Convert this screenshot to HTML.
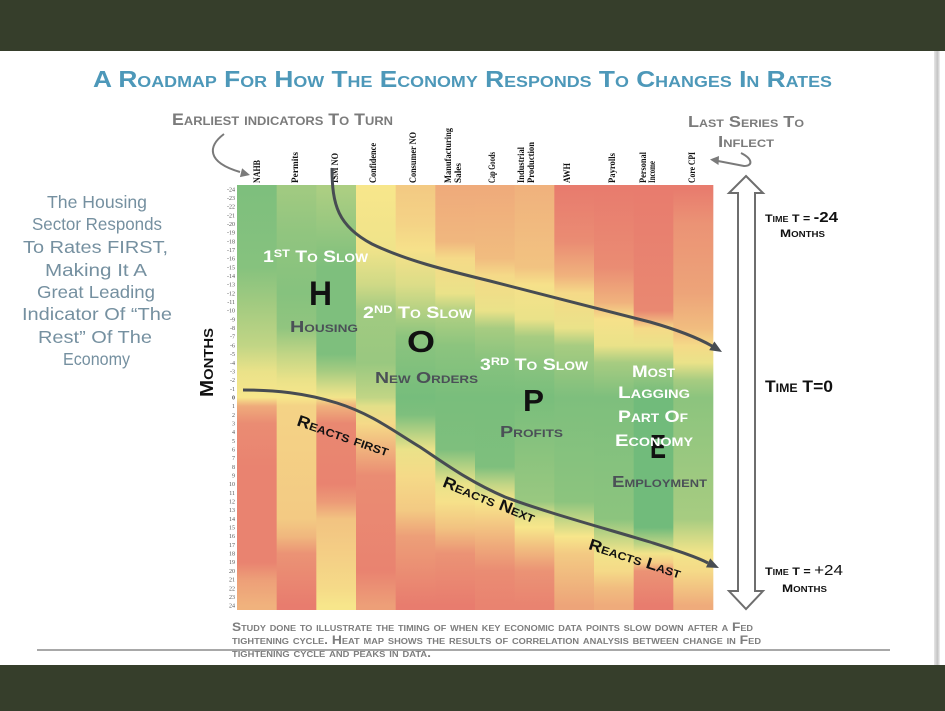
<!DOCTYPE html>
<html>
<head>
<meta charset="utf-8">
<style>
html,body{margin:0;padding:0;background:#fff;}
body{width:945px;height:711px;overflow:hidden;}
svg{display:block;}
.sc{font-family:"Liberation Sans",sans-serif;font-weight:bold;font-variant:small-caps;}
.hw{font-family:"Liberation Sans",sans-serif;font-weight:normal;fill:#7590a0;text-anchor:start;}
.cl{font-family:"Liberation Serif",serif;font-weight:bold;font-size:9px;fill:#111;}
.tk{font-family:"Liberation Serif",serif;font-size:6px;fill:#555;text-anchor:end;}
.wt{fill:#ffffff;}
.gt{fill:#4b5057;}
</style>
</head>
<body>
<svg width="945" height="711" viewBox="0 0 945 711" xmlns="http://www.w3.org/2000/svg">
<defs>
<linearGradient id="c1" x1="0" y1="0" x2="0" y2="1">
<stop offset="1%" stop-color="rgb(126,191,125)"/><stop offset="19.4%" stop-color="rgb(134,194,126)"/><stop offset="29.6%" stop-color="rgb(167,204,129)"/><stop offset="37.8%" stop-color="rgb(193,213,133)"/><stop offset="43.9%" stop-color="rgb(234,226,137)"/><stop offset="50%" stop-color="rgb(247,230,139)"/><stop offset="52%" stop-color="rgb(239,171,123)"/><stop offset="56.1%" stop-color="rgb(234,140,115)"/><stop offset="66.3%" stop-color="rgb(233,131,112)"/><stop offset="88.8%" stop-color="rgb(233,131,112)"/><stop offset="92.9%" stop-color="rgb(237,159,120)"/><stop offset="99%" stop-color="rgb(240,178,125)"/>
</linearGradient>
<linearGradient id="c2" x1="0" y1="0" x2="0" y2="1">
<stop offset="1%" stop-color="rgb(161,202,129)"/><stop offset="11.2%" stop-color="rgb(145,197,127)"/><stop offset="25.5%" stop-color="rgb(134,194,126)"/><stop offset="33.7%" stop-color="rgb(145,197,127)"/><stop offset="39.8%" stop-color="rgb(193,213,133)"/><stop offset="45.9%" stop-color="rgb(234,226,137)"/><stop offset="50%" stop-color="rgb(247,230,139)"/><stop offset="52%" stop-color="rgb(244,211,134)"/><stop offset="78.6%" stop-color="rgb(243,202,131)"/><stop offset="82.7%" stop-color="rgb(240,183,126)"/><stop offset="86.7%" stop-color="rgb(235,147,117)"/><stop offset="99%" stop-color="rgb(232,124,110)"/>
</linearGradient>
<linearGradient id="c3" x1="0" y1="0" x2="0" y2="1">
<stop offset="1%" stop-color="rgb(172,206,130)"/><stop offset="9.2%" stop-color="rgb(153,200,128)"/><stop offset="19.4%" stop-color="rgb(126,191,125)"/><stop offset="39.8%" stop-color="rgb(126,191,125)"/><stop offset="43.9%" stop-color="rgb(167,204,129)"/><stop offset="48%" stop-color="rgb(220,221,136)"/><stop offset="50%" stop-color="rgb(242,228,138)"/><stop offset="52%" stop-color="rgb(240,178,125)"/><stop offset="56.1%" stop-color="rgb(233,136,113)"/><stop offset="70.4%" stop-color="rgb(233,131,112)"/><stop offset="74.5%" stop-color="rgb(236,154,119)"/><stop offset="78.6%" stop-color="rgb(242,195,129)"/><stop offset="86.7%" stop-color="rgb(244,206,133)"/><stop offset="94.9%" stop-color="rgb(245,218,136)"/><stop offset="99%" stop-color="rgb(247,230,139)"/>
</linearGradient>
<linearGradient id="c4" x1="0" y1="0" x2="0" y2="1">
<stop offset="1%" stop-color="rgb(247,230,139)"/><stop offset="15.3%" stop-color="rgb(239,227,138)"/><stop offset="23.5%" stop-color="rgb(207,217,134)"/><stop offset="29.6%" stop-color="rgb(161,202,129)"/><stop offset="41.8%" stop-color="rgb(153,200,128)"/><stop offset="50%" stop-color="rgb(193,213,133)"/><stop offset="52%" stop-color="rgb(226,223,136)"/><stop offset="56.1%" stop-color="rgb(245,218,136)"/><stop offset="62.2%" stop-color="rgb(240,178,125)"/><stop offset="68.4%" stop-color="rgb(234,140,115)"/><stop offset="90.8%" stop-color="rgb(233,131,112)"/><stop offset="99%" stop-color="rgb(237,159,120)"/>
</linearGradient>
<linearGradient id="c5" x1="0" y1="0" x2="0" y2="1">
<stop offset="1%" stop-color="rgb(243,202,131)"/><stop offset="9.2%" stop-color="rgb(244,211,134)"/><stop offset="15.3%" stop-color="rgb(246,225,138)"/><stop offset="23.5%" stop-color="rgb(220,221,136)"/><stop offset="29.6%" stop-color="rgb(180,209,131)"/><stop offset="35.7%" stop-color="rgb(140,196,126)"/><stop offset="50%" stop-color="rgb(118,189,124)"/><stop offset="54.1%" stop-color="rgb(126,191,125)"/><stop offset="58.2%" stop-color="rgb(180,209,131)"/><stop offset="62.2%" stop-color="rgb(234,226,137)"/><stop offset="68.4%" stop-color="rgb(245,218,136)"/><stop offset="76.5%" stop-color="rgb(243,202,131)"/><stop offset="82.7%" stop-color="rgb(237,159,120)"/><stop offset="99%" stop-color="rgb(232,124,110)"/>
</linearGradient>
<linearGradient id="c6" x1="0" y1="0" x2="0" y2="1">
<stop offset="1%" stop-color="rgb(239,171,123)"/><stop offset="13.3%" stop-color="rgb(240,183,126)"/><stop offset="17.3%" stop-color="rgb(245,218,136)"/><stop offset="25.5%" stop-color="rgb(234,226,137)"/><stop offset="29.6%" stop-color="rgb(180,209,131)"/><stop offset="37.8%" stop-color="rgb(140,196,126)"/><stop offset="50%" stop-color="rgb(121,190,124)"/><stop offset="62.2%" stop-color="rgb(126,191,125)"/><stop offset="66.3%" stop-color="rgb(180,209,131)"/><stop offset="70.4%" stop-color="rgb(234,226,137)"/><stop offset="74.5%" stop-color="rgb(246,225,138)"/><stop offset="80.6%" stop-color="rgb(242,195,129)"/><stop offset="86.7%" stop-color="rgb(235,147,117)"/><stop offset="99%" stop-color="rgb(232,124,110)"/>
</linearGradient>
<linearGradient id="c7" x1="0" y1="0" x2="0" y2="1">
<stop offset="1%" stop-color="rgb(239,171,123)"/><stop offset="17.3%" stop-color="rgb(241,188,127)"/><stop offset="21.4%" stop-color="rgb(245,218,136)"/><stop offset="29.6%" stop-color="rgb(234,226,137)"/><stop offset="33.7%" stop-color="rgb(167,204,129)"/><stop offset="41.8%" stop-color="rgb(134,194,126)"/><stop offset="50%" stop-color="rgb(121,190,124)"/><stop offset="66.3%" stop-color="rgb(126,191,125)"/><stop offset="70.4%" stop-color="rgb(193,213,133)"/><stop offset="74.5%" stop-color="rgb(247,230,139)"/><stop offset="78.6%" stop-color="rgb(244,206,133)"/><stop offset="84.7%" stop-color="rgb(239,171,123)"/><stop offset="90.8%" stop-color="rgb(234,140,115)"/><stop offset="99%" stop-color="rgb(233,131,112)"/>
</linearGradient>
<linearGradient id="c8" x1="0" y1="0" x2="0" y2="1">
<stop offset="1%" stop-color="rgb(240,178,125)"/><stop offset="19.4%" stop-color="rgb(242,195,129)"/><stop offset="23.5%" stop-color="rgb(246,225,138)"/><stop offset="31.6%" stop-color="rgb(234,226,137)"/><stop offset="35.7%" stop-color="rgb(167,204,129)"/><stop offset="43.9%" stop-color="rgb(134,194,126)"/><stop offset="50%" stop-color="rgb(121,190,124)"/><stop offset="74.5%" stop-color="rgb(153,200,128)"/><stop offset="78.6%" stop-color="rgb(234,226,137)"/><stop offset="80.6%" stop-color="rgb(247,230,139)"/><stop offset="84.7%" stop-color="rgb(242,195,129)"/><stop offset="90.8%" stop-color="rgb(235,147,117)"/><stop offset="99%" stop-color="rgb(233,131,112)"/>
</linearGradient>
<linearGradient id="c9" x1="0" y1="0" x2="0" y2="1">
<stop offset="1%" stop-color="rgb(232,124,110)"/><stop offset="13.3%" stop-color="rgb(234,140,115)"/><stop offset="21.4%" stop-color="rgb(240,178,125)"/><stop offset="25.5%" stop-color="rgb(245,218,136)"/><stop offset="33.7%" stop-color="rgb(234,226,137)"/><stop offset="37.8%" stop-color="rgb(167,204,129)"/><stop offset="50%" stop-color="rgb(126,191,125)"/><stop offset="74.5%" stop-color="rgb(140,196,126)"/><stop offset="78.6%" stop-color="rgb(193,213,133)"/><stop offset="82.7%" stop-color="rgb(247,230,139)"/><stop offset="86.7%" stop-color="rgb(243,202,131)"/><stop offset="99%" stop-color="rgb(237,164,121)"/>
</linearGradient>
<linearGradient id="c10" x1="0" y1="0" x2="0" y2="1">
<stop offset="1%" stop-color="rgb(232,124,110)"/><stop offset="19.4%" stop-color="rgb(234,140,115)"/><stop offset="27.6%" stop-color="rgb(240,178,125)"/><stop offset="31.6%" stop-color="rgb(246,225,138)"/><stop offset="37.8%" stop-color="rgb(234,226,137)"/><stop offset="41.8%" stop-color="rgb(167,204,129)"/><stop offset="50%" stop-color="rgb(126,191,125)"/><stop offset="78.6%" stop-color="rgb(140,196,126)"/><stop offset="82.7%" stop-color="rgb(193,213,133)"/><stop offset="86.7%" stop-color="rgb(242,228,138)"/><stop offset="90.8%" stop-color="rgb(245,218,136)"/><stop offset="94.9%" stop-color="rgb(241,188,127)"/><stop offset="99%" stop-color="rgb(239,171,123)"/>
</linearGradient>
<linearGradient id="c11" x1="0" y1="0" x2="0" y2="1">
<stop offset="1%" stop-color="rgb(232,124,110)"/><stop offset="29.6%" stop-color="rgb(233,136,113)"/><stop offset="31.6%" stop-color="rgb(239,171,123)"/><stop offset="33.7%" stop-color="rgb(245,218,136)"/><stop offset="37.8%" stop-color="rgb(234,226,137)"/><stop offset="41.8%" stop-color="rgb(167,204,129)"/><stop offset="50%" stop-color="rgb(113,187,123)"/><stop offset="80.6%" stop-color="rgb(113,187,123)"/><stop offset="84.7%" stop-color="rgb(193,213,133)"/><stop offset="86.7%" stop-color="rgb(242,228,138)"/><stop offset="88.8%" stop-color="rgb(244,206,133)"/><stop offset="90.8%" stop-color="rgb(235,147,117)"/><stop offset="99%" stop-color="rgb(232,124,110)"/>
</linearGradient>
<linearGradient id="c12" x1="0" y1="0" x2="0" y2="1">
<stop offset="1%" stop-color="rgb(232,124,110)"/><stop offset="9.2%" stop-color="rgb(235,147,117)"/><stop offset="25.5%" stop-color="rgb(237,164,121)"/><stop offset="33.7%" stop-color="rgb(241,188,127)"/><stop offset="37.8%" stop-color="rgb(245,218,136)"/><stop offset="41.8%" stop-color="rgb(234,226,137)"/><stop offset="45.9%" stop-color="rgb(167,204,129)"/><stop offset="50%" stop-color="rgb(140,196,126)"/><stop offset="78.6%" stop-color="rgb(167,204,129)"/><stop offset="82.7%" stop-color="rgb(207,217,134)"/><stop offset="86.7%" stop-color="rgb(242,228,138)"/><stop offset="90.8%" stop-color="rgb(245,218,136)"/><stop offset="99%" stop-color="rgb(239,171,123)"/>
</linearGradient>
<linearGradient id="edge" x1="0" y1="0" x2="1" y2="0">
<stop offset="0" stop-color="#e6e6e6"/><stop offset="0.6" stop-color="#c4c4c4"/><stop offset="1" stop-color="#f2f2f2"/>
</linearGradient>
</defs>

<rect x="0" y="0" width="945" height="711" fill="#ffffff"/>
<rect x="934" y="51" width="6" height="614" fill="url(#edge)"/>

<!-- Title -->
<text class="sc" x="93" y="87" font-size="23.5" fill="#4d98b9" textLength="739" lengthAdjust="spacingAndGlyphs">A Roadmap For How The Economy Responds To Changes In Rates</text>

<!-- Top annotations -->
<text class="sc" x="172" y="125" font-size="16.5" fill="#7b7b7b" textLength="221" lengthAdjust="spacingAndGlyphs">Earliest indicators To Turn</text>
<text class="sc" x="688" y="127" font-size="16" fill="#7b7b7b" textLength="116" lengthAdjust="spacingAndGlyphs">Last Series To</text>
<text class="sc" x="718" y="147" font-size="16" fill="#7b7b7b" textLength="56" lengthAdjust="spacingAndGlyphs">Inflect</text>

<!-- small arrows -->
<path d="M224,134 C208,146 206,162 240,172" fill="none" stroke="#7a7a7a" stroke-width="2"/>
<polygon points="250,175 239.9,177.1 242.1,168.3" fill="#7a7a7a"/>
<path d="M741,153 C753,159 753,166 744,166 L718,161" fill="none" stroke="#7a7a7a" stroke-width="2"/>
<polygon points="710,159.5 719,156 718.5,165" fill="#7a7a7a"/>

<!-- Column labels -->
<text class="cl" transform="translate(260,183) rotate(-90)" textLength="23" lengthAdjust="spacingAndGlyphs">NAHB</text>
<text class="cl" transform="translate(298,183) rotate(-90)" textLength="31" lengthAdjust="spacingAndGlyphs">Permits</text>
<text class="cl" transform="translate(338,183) rotate(-90)" textLength="30" lengthAdjust="spacingAndGlyphs">ISM NO</text>
<text class="cl" transform="translate(376,183) rotate(-90)" textLength="40" lengthAdjust="spacingAndGlyphs">Confidence</text>
<text class="cl" transform="translate(416,183) rotate(-90)" textLength="51" lengthAdjust="spacingAndGlyphs">Consumer NO</text>
<text class="cl" transform="translate(451,183) rotate(-90)" textLength="55" lengthAdjust="spacingAndGlyphs">Manufacturing</text>
<text class="cl" transform="translate(461,183) rotate(-90)" textLength="20" lengthAdjust="spacingAndGlyphs">Sales</text>
<text class="cl" transform="translate(495,183) rotate(-90)" textLength="31" lengthAdjust="spacingAndGlyphs">Cap Goods</text>
<text class="cl" transform="translate(524,183) rotate(-90)" textLength="36" lengthAdjust="spacingAndGlyphs">Industrial</text>
<text class="cl" transform="translate(534,183) rotate(-90)" textLength="41" lengthAdjust="spacingAndGlyphs">Production</text>
<text class="cl" transform="translate(570,183) rotate(-90)" textLength="20" lengthAdjust="spacingAndGlyphs">AWH</text>
<text class="cl" transform="translate(615,183) rotate(-90)" textLength="30" lengthAdjust="spacingAndGlyphs">Payrolls</text>
<text class="cl" transform="translate(646,183) rotate(-90)" textLength="31" lengthAdjust="spacingAndGlyphs">Personal</text>
<text class="cl" transform="translate(655,183) rotate(-90)" textLength="22" lengthAdjust="spacingAndGlyphs">Income</text>
<text class="cl" transform="translate(695,183) rotate(-90)" textLength="31" lengthAdjust="spacingAndGlyphs">Core CPI</text>

<!-- Heatmap -->
<rect x="237" y="185" width="40.2" height="425" fill="url(#c1)"/>
<rect x="276.67" y="185" width="40.2" height="425" fill="url(#c2)"/>
<rect x="316.33" y="185" width="40.2" height="425" fill="url(#c3)"/>
<rect x="356" y="185" width="40.2" height="425" fill="url(#c4)"/>
<rect x="395.67" y="185" width="40.2" height="425" fill="url(#c5)"/>
<rect x="435.33" y="185" width="40.2" height="425" fill="url(#c6)"/>
<rect x="475" y="185" width="40.2" height="425" fill="url(#c7)"/>
<rect x="514.67" y="185" width="40.2" height="425" fill="url(#c8)"/>
<rect x="554.33" y="185" width="40.2" height="425" fill="url(#c9)"/>
<rect x="594" y="185" width="40.2" height="425" fill="url(#c10)"/>
<rect x="633.67" y="185" width="40.2" height="425" fill="url(#c11)"/>
<rect x="673.33" y="185" width="40" height="425" fill="url(#c12)"/>

<!-- Tick labels -->
<text class="tk" x="235" y="191.3">-24</text><text class="tk" x="235" y="200.0">-23</text><text class="tk" x="235" y="208.7">-22</text><text class="tk" x="235" y="217.3">-21</text><text class="tk" x="235" y="226.0">-20</text><text class="tk" x="235" y="234.7">-19</text><text class="tk" x="235" y="243.3">-18</text><text class="tk" x="235" y="252.0">-17</text><text class="tk" x="235" y="260.7">-16</text><text class="tk" x="235" y="269.4">-15</text><text class="tk" x="235" y="278.0">-14</text><text class="tk" x="235" y="286.7">-13</text><text class="tk" x="235" y="295.4">-12</text><text class="tk" x="235" y="304.1">-11</text><text class="tk" x="235" y="312.7">-10</text><text class="tk" x="235" y="321.4">-9</text><text class="tk" x="235" y="330.1">-8</text><text class="tk" x="235" y="338.7">-7</text><text class="tk" x="235" y="347.4">-6</text><text class="tk" x="235" y="356.1">-5</text><text class="tk" x="235" y="364.8">-4</text><text class="tk" x="235" y="373.4">-3</text><text class="tk" x="235" y="382.1">-2</text><text class="tk" x="235" y="390.8">-1</text><text class="tk" x="235" y="399.5" font-weight="bold" fill="#222">0</text><text class="tk" x="235" y="408.1">1</text><text class="tk" x="235" y="416.8">2</text><text class="tk" x="235" y="425.5">3</text><text class="tk" x="235" y="434.1">4</text><text class="tk" x="235" y="442.8">5</text><text class="tk" x="235" y="451.5">6</text><text class="tk" x="235" y="460.2">7</text><text class="tk" x="235" y="468.8">8</text><text class="tk" x="235" y="477.5">9</text><text class="tk" x="235" y="486.2">10</text><text class="tk" x="235" y="494.9">11</text><text class="tk" x="235" y="503.5">12</text><text class="tk" x="235" y="512.2">13</text><text class="tk" x="235" y="520.9">14</text><text class="tk" x="235" y="529.5">15</text><text class="tk" x="235" y="538.2">16</text><text class="tk" x="235" y="546.9">17</text><text class="tk" x="235" y="555.6">18</text><text class="tk" x="235" y="564.2">19</text><text class="tk" x="235" y="572.9">20</text><text class="tk" x="235" y="581.6">21</text><text class="tk" x="235" y="590.3">22</text><text class="tk" x="235" y="598.9">23</text><text class="tk" x="235" y="607.6">24</text>

<!-- Months axis title -->
<text class="sc" transform="translate(213,397) rotate(-90)" font-size="18" fill="#111" textLength="69" lengthAdjust="spacingAndGlyphs">Months</text>

<!-- Handwritten note -->
<text class="hw" x="47" y="208" font-size="17.5" textLength="100" lengthAdjust="spacingAndGlyphs">The Housing</text>
<text class="hw" x="32" y="230" font-size="17.5" textLength="130" lengthAdjust="spacingAndGlyphs">Sector Responds</text>
<text class="hw" x="23" y="253" font-size="17.5" textLength="145" lengthAdjust="spacingAndGlyphs">To Rates FIRST,</text>
<text class="hw" x="45" y="276" font-size="17.5" textLength="102" lengthAdjust="spacingAndGlyphs">Making It A</text>
<text class="hw" x="37" y="298" font-size="17.5" textLength="118" lengthAdjust="spacingAndGlyphs">Great Leading</text>
<text class="hw" x="22" y="320" font-size="17.5" textLength="150" lengthAdjust="spacingAndGlyphs">Indicator Of “The</text>
<text class="hw" x="38" y="343" font-size="17.5" textLength="114" lengthAdjust="spacingAndGlyphs">Rest” Of The</text>
<text class="hw" x="63" y="365" font-size="17.5" textLength="67" lengthAdjust="spacingAndGlyphs">Economy</text>

<!-- Curves -->
<path d="M332,168 C332,205 338,226 372,244 C405,260 445,270 490,281 C545,295 600,309 650,322 C678,330 698,338 712,346" fill="none" stroke="#474c52" stroke-width="3"/>
<polygon points="722,352 709.2,350.1 714.4,341.5" fill="#474c52"/>
<path d="M243,390 C275,390 305,393 337,403 C372,414 395,432 420,447 C447,465 470,482 505,497 C545,512 600,527 650,542 C678,551 697,557 708,563" fill="none" stroke="#474c52" stroke-width="3"/>
<polygon points="719,568 706,567.4 710.2,558.4" fill="#474c52"/>

<!-- Overlay labels -->
<text class="sc wt" x="263" y="262" font-size="17" textLength="105" lengthAdjust="spacingAndGlyphs">1<tspan font-size="11" dy="-5">ST</tspan><tspan dy="5"> To Slow</tspan></text>
<text class="sc" x="309" y="305" font-size="34" fill="#111" textLength="23" lengthAdjust="spacingAndGlyphs">H</text>
<text class="sc gt" x="290" y="332" font-size="16" textLength="68" lengthAdjust="spacingAndGlyphs">Housing</text>

<text class="sc wt" x="363" y="318" font-size="17" textLength="109" lengthAdjust="spacingAndGlyphs">2<tspan font-size="11" dy="-5">ND</tspan><tspan dy="5"> To Slow</tspan></text>
<text class="sc" x="407" y="352" font-size="31" fill="#111" textLength="28" lengthAdjust="spacingAndGlyphs">O</text>
<text class="sc gt" x="375" y="383" font-size="16" textLength="103" lengthAdjust="spacingAndGlyphs">New Orders</text>

<text class="sc wt" x="480" y="370" font-size="17" textLength="108" lengthAdjust="spacingAndGlyphs">3<tspan font-size="11" dy="-5">RD</tspan><tspan dy="5"> To Slow</tspan></text>
<text class="sc" x="523" y="411" font-size="31" fill="#111" textLength="21" lengthAdjust="spacingAndGlyphs">P</text>
<text class="sc gt" x="500" y="437" font-size="16" textLength="63" lengthAdjust="spacingAndGlyphs">Profits</text>

<text class="sc wt" x="632" y="377" font-size="17" textLength="43" lengthAdjust="spacingAndGlyphs">Most</text>
<text class="sc wt" x="618" y="398" font-size="17" textLength="72" lengthAdjust="spacingAndGlyphs">Lagging</text>
<text class="sc wt" x="618" y="422" font-size="17" textLength="70" lengthAdjust="spacingAndGlyphs">Part Of</text>
<text class="sc" x="650" y="458" font-size="33" fill="#111" textLength="16" lengthAdjust="spacingAndGlyphs">E</text>
<text class="sc wt" x="615" y="446" font-size="17" textLength="78" lengthAdjust="spacingAndGlyphs">Economy</text>
<text class="sc gt" x="612" y="487" font-size="16" textLength="95" lengthAdjust="spacingAndGlyphs">Employment</text>

<text class="sc" transform="translate(343,436) rotate(19)" y="5" font-size="16" fill="#111" text-anchor="middle" textLength="96" lengthAdjust="spacingAndGlyphs">Reacts first</text>
<text class="sc" transform="translate(489,500) rotate(22)" y="5" font-size="16" fill="#111" text-anchor="middle" textLength="98" lengthAdjust="spacingAndGlyphs">Reacts Next</text>
<text class="sc" transform="translate(635,559) rotate(18)" y="5" font-size="16" fill="#111" text-anchor="middle" textLength="96" lengthAdjust="spacingAndGlyphs">Reacts Last</text>

<!-- Right double arrow -->
<path d="M746,176 L763,193 L755,193 L755,591 L763,591 L746,609 L729,591 L738,591 L738,193 L729,193 Z" fill="#ffffff" stroke="#6e6e6e" stroke-width="2" stroke-linejoin="miter"/>

<!-- Right text -->
<text class="sc" x="765" y="222" font-size="11" fill="#111" textLength="73" lengthAdjust="spacingAndGlyphs">Time T = <tspan font-size="15">-24</tspan></text>
<text class="sc" x="780" y="237" font-size="11" fill="#111" textLength="45" lengthAdjust="spacingAndGlyphs">Months</text>
<text class="sc" x="765" y="392" font-size="17" fill="#111" textLength="68" lengthAdjust="spacingAndGlyphs">Time T=0</text>
<text class="sc" x="765" y="575" font-size="11" fill="#111" textLength="78" lengthAdjust="spacingAndGlyphs">Time T = <tspan font-size="15" font-weight="normal">+24</tspan></text>
<text class="sc" x="782" y="592" font-size="11" fill="#111" textLength="45" lengthAdjust="spacingAndGlyphs">Months</text>

<!-- Caption -->
<text class="sc" x="232" y="631" font-size="12" fill="#7d7d7d" textLength="521" lengthAdjust="spacingAndGlyphs">Study done to illustrate the timing of when key economic data points slow down after a Fed</text>
<text class="sc" x="232" y="644" font-size="12" fill="#7d7d7d" textLength="529" lengthAdjust="spacingAndGlyphs">tightening cycle. Heat map shows the results of correlation analysis between change in Fed</text>
<line x1="37" y1="650" x2="890" y2="650" stroke="#a8a8a8" stroke-width="2"/>
<text class="sc" x="232" y="657" font-size="12" fill="#7d7d7d" textLength="199" lengthAdjust="spacingAndGlyphs">tightening cycle and peaks in data.</text>
<text class="sc" x="770" y="673" font-size="10" fill="#666" textLength="118" lengthAdjust="spacingAndGlyphs">Piper Sandler | 14</text>

<!-- Dark frame bars -->
<rect x="0" y="0" width="945" height="51" fill="#363e2b"/>
<rect x="0" y="665" width="945" height="46" fill="#363e2b"/>
</svg>
</body>
</html>
